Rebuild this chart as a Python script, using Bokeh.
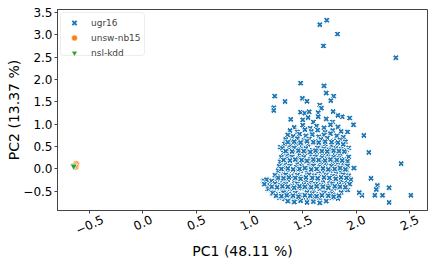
import math
from bokeh.plotting import figure
from bokeh.models import (Legend, LegendItem, CustomJSTickFormatter, LinearAxis, FixedTicker,
                          BoxAnnotation)
from bokeh.embed import file_html
from bokeh.resources import INLINE

# ---------------- data ----------------
x_ticks = [-0.5, 0.0, 0.5, 1.0, 1.5, 2.0, 2.5]
x_tick_labels = ["\u22120.5", "0.0", "0.5", "1.0", "1.5", "2.0", "2.5"]
y_ticks = [-0.5, 0.0, 0.5, 1.0, 1.5, 2.0, 2.5, 3.0, 3.5]
x_label = "PC1 (48.11 %)"
y_label = "PC2 (13.37 %)"
series_names = ["ugr16", "unsw-nb15", "nsl-kdd"]

# ugr16 points (PC1, PC2)
ugr16_points = [
    # outliers
    (1.725, 3.33), (1.66, 3.23), (1.826, 3.02), (1.694, 2.755), (2.373, 2.49),
    (1.48, 1.92), (1.70, 1.86), (1.72, 1.70), (1.79, 1.63), (1.237, 1.63),
    (1.334, 1.51), (1.497, 1.58), (1.54, 1.515), (1.763, 1.53), (1.228, 1.37),
    (1.228, 1.31), (1.66, 1.43), (1.675, 1.36), (1.387, 1.11), (1.94, 1.14),
    (1.976, 0.99), (2.073, 0.75), (1.87, 1.17), (1.83, 1.20), (1.48, 1.27),
    (1.52, 1.25), (1.56, 1.28), (1.645, 1.26), (1.645, 1.17), (1.785, 1.285),
    (2.12, 0.37), (2.423, 0.12), (1.98, 0.02), (2.14, -0.21), (2.20, -0.37),
    (2.19, -0.46), (2.31, -0.42), (2.248, -0.59), (2.176, -0.59), (2.055, -0.59),
    (2.03, -0.53), (2.31, -0.75), (2.514, -0.59), (1.92, -0.48), (1.93, 0.47),
    (1.875, 0.69), (1.92, 0.83), (1.29, 0.49), (1.13, -0.27), (1.14, -0.27),
    (1.17, -0.45), (1.215, -0.56), (1.50, 1.10), (1.60, 1.05), (1.55, 1.15),
    (1.72, 1.12), (1.78, 1.05),
    # dense core
    (1.42, 0.93), (1.50, 0.98), (1.57, 0.91), (1.63, 0.96), (1.70, 0.92), (1.76, 0.99), (1.83, 0.94),
    (1.38, 0.86), (1.45, 0.83), (1.52, 0.88), (1.58, 0.84), (1.64, 0.87), (1.71, 0.82), (1.78, 0.86), (1.86, 0.84),
    (1.36, 0.76), (1.41, 0.73), (1.47, 0.78), (1.53, 0.74), (1.59, 0.77), (1.65, 0.72), (1.70, 0.76), (1.76, 0.79),
    (1.82, 0.74), (1.88, 0.71),
    (1.34, 0.66), (1.40, 0.63), (1.45, 0.68), (1.51, 0.64), (1.56, 0.67), (1.62, 0.62), (1.67, 0.66), (1.73, 0.69),
    (1.79, 0.63), (1.85, 0.65), (1.90, 0.61),
    (1.33, 0.56), (1.38, 0.53), (1.44, 0.57), (1.49, 0.52), (1.55, 0.55), (1.60, 0.58), (1.66, 0.54), (1.71, 0.56),
    (1.77, 0.52), (1.82, 0.57), (1.88, 0.55),
    (1.31, 0.46), (1.37, 0.43), (1.42, 0.47), (1.48, 0.44), (1.53, 0.46), (1.59, 0.42), (1.64, 0.47), (1.70, 0.45),
    (1.75, 0.43), (1.81, 0.46), (1.86, 0.44), (1.91, 0.42),
    (1.32, 0.36), (1.36, 0.33), (1.41, 0.37), (1.47, 0.34), (1.52, 0.36), (1.58, 0.32), (1.63, 0.37), (1.69, 0.35),
    (1.74, 0.33), (1.80, 0.36), (1.85, 0.34), (1.90, 0.38),
    (1.30, 0.26), (1.35, 0.23), (1.40, 0.27), (1.46, 0.24), (1.51, 0.26), (1.57, 0.22), (1.62, 0.27), (1.68, 0.25),
    (1.73, 0.23), (1.79, 0.26), (1.84, 0.24), (1.89, 0.22), (1.93, 0.27),
    (1.29, 0.16), (1.34, 0.13), (1.39, 0.17), (1.45, 0.14), (1.50, 0.16), (1.56, 0.12), (1.61, 0.17), (1.67, 0.15),
    (1.72, 0.13), (1.78, 0.16), (1.83, 0.14), (1.88, 0.12), (1.92, 0.17),
    (1.28, 0.06), (1.33, 0.03), (1.38, 0.07), (1.44, 0.04), (1.49, 0.06), (1.55, 0.02), (1.60, 0.07), (1.66, 0.05),
    (1.71, 0.03), (1.77, 0.06), (1.82, 0.04), (1.87, 0.02), (1.92, 0.07),
    (1.27, -0.04), (1.32, -0.07), (1.37, -0.03), (1.43, -0.06), (1.48, -0.04), (1.54, -0.08), (1.59, -0.03),
    (1.65, -0.05), (1.70, -0.07), (1.76, -0.04), (1.81, -0.06), (1.86, -0.08), (1.91, -0.03),
    (1.24, -0.14), (1.29, -0.17), (1.34, -0.13), (1.39, -0.16), (1.45, -0.14), (1.50, -0.18), (1.56, -0.13),
    (1.61, -0.15), (1.67, -0.17), (1.72, -0.14), (1.78, -0.16), (1.83, -0.18), (1.88, -0.13), (1.93, -0.15),
    (1.16, -0.24), (1.21, -0.27), (1.26, -0.23), (1.31, -0.26), (1.36, -0.24), (1.42, -0.28), (1.47, -0.23),
    (1.53, -0.25), (1.58, -0.27), (1.64, -0.24), (1.69, -0.26), (1.75, -0.28), (1.80, -0.23), (1.86, -0.25),
    (1.91, -0.27), (1.95, -0.24),
    (1.14, -0.34), (1.19, -0.37), (1.24, -0.33), (1.29, -0.36), (1.34, -0.34), (1.40, -0.38), (1.45, -0.33),
    (1.51, -0.35), (1.56, -0.37), (1.62, -0.34), (1.67, -0.36), (1.73, -0.38), (1.78, -0.33), (1.84, -0.35),
    (1.89, -0.37), (1.94, -0.34),
    (1.18, -0.44), (1.23, -0.47), (1.28, -0.43), (1.33, -0.46), (1.38, -0.44), (1.44, -0.48), (1.49, -0.43),
    (1.55, -0.45), (1.60, -0.47), (1.66, -0.44), (1.71, -0.46), (1.77, -0.48), (1.82, -0.43), (1.87, -0.45),
    (1.92, -0.47),
    (1.22, -0.54), (1.27, -0.57), (1.32, -0.53), (1.37, -0.56), (1.43, -0.54), (1.48, -0.58), (1.54, -0.53),
    (1.59, -0.55), (1.65, -0.57), (1.70, -0.54), (1.76, -0.56), (1.81, -0.58), (1.86, -0.53),
    (1.28, -0.64), (1.33, -0.67), (1.39, -0.63), (1.44, -0.66), (1.50, -0.64), (1.55, -0.68), (1.61, -0.63),
    (1.66, -0.65), (1.72, -0.67), (1.77, -0.64), (1.83, -0.66),
    (1.36, -0.72), (1.42, -0.74), (1.48, -0.71), (1.54, -0.75), (1.60, -0.73), (1.66, -0.76), (1.72, -0.72),
    # second layer in the core
    (1.36, 0.60), (1.42, 0.61), (1.48, 0.59), (1.54, 0.62), (1.60, 0.60), (1.65, 0.59), (1.71, 0.61), (1.77, 0.60),
    (1.83, 0.59),
    (1.34, 0.40), (1.40, 0.39), (1.46, 0.41), (1.51, 0.40), (1.57, 0.38), (1.62, 0.41), (1.68, 0.40), (1.73, 0.39),
    (1.79, 0.41), (1.84, 0.40), (1.89, 0.39),
    (1.32, 0.20), (1.38, 0.19), (1.43, 0.21), (1.49, 0.20), (1.54, 0.18), (1.60, 0.21), (1.65, 0.20), (1.71, 0.19),
    (1.76, 0.21), (1.82, 0.20), (1.87, 0.19),
    (1.30, 0.00), (1.36, 0.01), (1.41, -0.01), (1.47, 0.00), (1.52, 0.02), (1.58, -0.01), (1.63, 0.00),
    (1.69, 0.01), (1.74, -0.01), (1.80, 0.00), (1.85, 0.02), (1.90, -0.01),
    (1.27, -0.20), (1.32, -0.21), (1.37, -0.19), (1.43, -0.20), (1.48, -0.22), (1.53, -0.19), (1.59, -0.20),
    (1.64, -0.21), (1.70, -0.19), (1.75, -0.20), (1.81, -0.22), (1.86, -0.19), (1.91, -0.20),
    (1.21, -0.40), (1.26, -0.41), (1.31, -0.39), (1.36, -0.40), (1.42, -0.42), (1.47, -0.39), (1.52, -0.40),
    (1.58, -0.41), (1.63, -0.39), (1.69, -0.40), (1.74, -0.42), (1.80, -0.39), (1.85, -0.40), (1.90, -0.41),
    (1.25, -0.60), (1.30, -0.61), (1.35, -0.59), (1.41, -0.60), (1.46, -0.62), (1.52, -0.59), (1.57, -0.60),
    (1.63, -0.61), (1.68, -0.59), (1.74, -0.60), (1.79, -0.62), (1.84, -0.60),
]
ugr16_x = [pt[0] for pt in ugr16_points]
ugr16_y = [pt[1] for pt in ugr16_points]

unsw_x = [-0.625, -0.630, -0.635]
unsw_y = [0.11, 0.05, 0.08]

nsl_x = [-0.645, -0.648]
nsl_y = [0.07, 0.06]

colors = ["#1f77b4", "#ff7f0e", "#2ca02c"]

# ---------------- layout constants ----------------
W, H = 436, 262
B_LEFT, B_RIGHT, B_TOP, B_BOTTOM = 57, 9, 9, 51
X_START, X_END = -0.80, 2.67
LABEL_ANGLE = 0.44
TICK_FONT_PX = 12

p = figure(width=W, height=H, x_range=(X_START, X_END), y_range=(-0.93, 3.57),
           output_backend="svg", toolbar_location=None,
           min_border_left=B_LEFT, min_border_right=B_RIGHT,
           min_border_top=B_TOP, min_border_bottom=B_BOTTOM)
p.grid.visible = False
p.outline_line_color = "#444444"
p.outline_line_width = 1
p.background_fill_color = "white"
p.border_fill_color = "white"

# legend key for ugr16 (a bold X), drawn under the filled X markers
r1_key = p.scatter(ugr16_x, ugr16_y, marker="x", size=3.5, line_color=colors[0], line_width=2.0)
r1 = p.scatter(ugr16_x, ugr16_y, marker="plus", angle=math.pi / 4, size=6.5,
               fill_color=colors[0], line_color="white", line_width=1.0)
r2 = p.scatter(unsw_x, unsw_y, marker="circle", size=6.5,
               fill_color=colors[1], line_color="white", line_width=0.6)
r3 = p.scatter(nsl_x, nsl_y, marker="inverted_triangle", size=7,
               fill_color=colors[2], line_color="white", line_width=0.6)

# ---- axes ----
tick_axis = p.xaxis[0]
tick_axis.ticker = x_ticks
tick_axis.formatter = CustomJSTickFormatter(code="return '';")
tick_axis.major_label_standoff = 0

# second bottom axis that carries matplotlib-style rotated labels centred under the ticks
px_per_unit = (W - B_LEFT - B_RIGHT) / (X_END - X_START)


def centre_shift(label):
    em = sum(0.838 if c == "\u2212" else 0.318 if c == "." else 0.636 for c in label)
    return em * TICK_FONT_PX / 2 * math.cos(LABEL_ANGLE) / px_per_unit


label_pos = [t + centre_shift(l) for t, l in zip(x_ticks, x_tick_labels)]
label_axis = LinearAxis(
    ticker=FixedTicker(ticks=label_pos),
    formatter=CustomJSTickFormatter(
        args=dict(pos=label_pos, labels=x_tick_labels),
        code="let b = 0; for (let i = 0; i < pos.length; i++) { if (Math.abs(pos[i] - tick) < Math.abs(pos[b] - tick)) b = i; } return labels[b];"),
    axis_label=x_label)
p.add_layout(label_axis, "below")
label_axis.major_tick_out = 0
label_axis.major_tick_in = 0
label_axis.minor_tick_out = 0
label_axis.minor_tick_in = 0
label_axis.axis_line_color = None
label_axis.major_label_orientation = LABEL_ANGLE
label_axis.major_label_standoff = 5
label_axis.axis_label_standoff = 1

p.yaxis.ticker = y_ticks
p.yaxis.formatter = CustomJSTickFormatter(code="return tick.toFixed(1).replace('-', '\u2212');")
p.yaxis.axis_label = y_label
p.yaxis.axis_label_standoff = -2

for ax in [tick_axis, label_axis, p.yaxis[0]]:
    ax.major_label_text_font = "DejaVu Sans"
    ax.major_label_text_font_size = f"{TICK_FONT_PX}px"
    ax.major_label_text_color = "black"
    ax.axis_label_text_font = "DejaVu Sans"
    ax.axis_label_text_font_size = "14px"
    ax.axis_label_text_font_style = "normal"
    ax.axis_label_text_color = "black"
for ax in [tick_axis, p.yaxis[0]]:
    ax.major_tick_out = 3
    ax.major_tick_in = 0
    ax.minor_tick_out = 0
    ax.minor_tick_in = 0
    ax.major_tick_line_color = "#444444"
    ax.axis_line_color = "#444444"
p.yaxis.major_label_standoff = 2

# ---- legend ----
legend_frame = BoxAnnotation(left=3, right=87, top=198, bottom=155,
                             left_units="screen", right_units="screen",
                             top_units="screen", bottom_units="screen",
                             fill_color="white", fill_alpha=0.8,
                             line_color="#c4c4c4", line_width=1, border_radius=3)
p.add_layout(legend_frame)

legend = Legend(items=[LegendItem(label=series_names[0], renderers=[r1_key]),
                       LegendItem(label=series_names[1], renderers=[r2]),
                       LegendItem(label=series_names[2], renderers=[r3])],
                location="top_left")
legend.label_text_font = "DejaVu Sans"
legend.label_text_font_size = "9px"
legend.glyph_width = 22
legend.glyph_height = 15
legend.label_height = 15
legend.spacing = -2
legend.padding = 2
legend.margin = 4
legend.label_standoff = 6
legend.border_line_alpha = 0
legend.background_fill_alpha = 0
p.add_layout(legend)

open("out.html", "w").write(file_html(p, INLINE))
